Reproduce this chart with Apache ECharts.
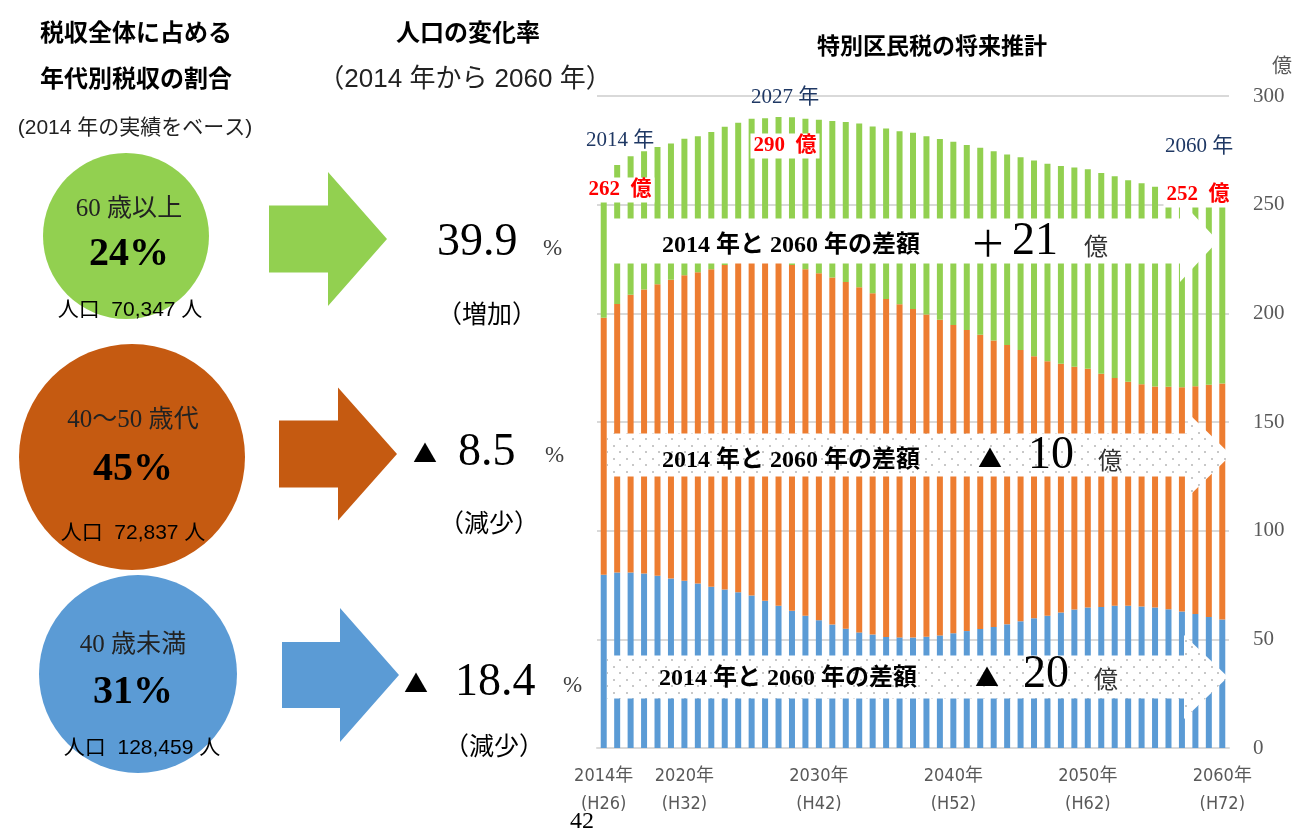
<!DOCTYPE html>
<html>
<head>
<meta charset="utf-8">
<script src="https://cdn.jsdelivr.net/npm/echarts@6/dist/echarts.min.js"></script>
<style>
html,body{margin:0;padding:0;background:#fff;}
#main{width:1296px;height:832px;}
</style>
</head>
<body>
<div id="main"></div>
<script>
// ---- data ----
var years = [];
for (var y = 2014; y <= 2060; y++) years.push(y);
var labelYears = [2014, 2020, 2030, 2040, 2050, 2060];
// 40歳未満 (億円)
var under40 = [79.7,80.8,80.8,80.3,79.2,78.0,76.9,75.7,74.2,72.9,71.7,70.2,67.7,65.5,63.1,60.9,58.8,56.8,54.9,53.2,52.2,51.1,50.9,50.8,51.2,51.8,52.8,53.8,54.8,55.7,56.9,58.3,59.7,60.9,62.3,63.7,64.6,64.9,65.4,65.5,65.1,64.6,63.8,62.8,61.7,60.3,59.1];
// 40〜50歳代 (億円)
var age4050 = [118.3,123.5,127.7,130.7,134.2,137.4,140.6,143.2,146.1,149.3,151.5,153.6,156.3,158.1,159.1,159.4,159.7,159.7,159.5,158.8,157.0,155.5,153.3,151.2,148.3,145.3,141.8,138.5,135.4,131.8,128.5,124.8,120.6,117.1,114.5,111.7,109.9,107.3,104.8,103.0,102.3,101.7,102.4,103.2,104.8,106.8,108.6];
// 60歳以上 (億円)
var over60 = [64.0,63.9,63.8,63.6,63.1,62.8,62.8,62.6,63.1,63.6,64.5,65.7,65.8,66.7,68.0,69.2,70.6,72.0,73.6,75.4,76.8,78.5,79.6,81.1,82.0,83.1,84.3,85.2,86.0,87.1,87.7,88.7,90.0,90.8,91.0,91.7,91.8,92.4,92.9,92.7,92.4,91.9,91.2,90.2,88.5,86.4,84.3];
var yTicks = [0, 50, 100, 150, 200, 250, 300];

// ---- fonts & colors ----
var SERIF = "'Liberation Serif','Noto Sans CJK JP',serif";
var SANS = "'Noto Sans CJK JP','Liberation Sans',sans-serif";
var GOTH = "'Liberation Sans','Noto Sans CJK JP',sans-serif";
var NARROW = "'Liberation Sans Narrow','DejaVu Sans Condensed','Noto Sans CJK JP',sans-serif";
var GREEN = '#92D050', ORANGE = '#ED7D31', BLUE = '#5B9BD5', DKORANGE = '#C55A11';

// dotted pattern for annotation arrows
var pc = document.createElement('canvas');
pc.width = 13; pc.height = 13;
var pctx = pc.getContext('2d');
pctx.fillStyle = '#ffffff'; pctx.fillRect(0, 0, 13, 13);
pctx.fillStyle = '#C8C8C8';
pctx.fillRect(2, 3, 2, 2);
pctx.fillRect(8, 9, 2, 2);

function txt(x, y, text, size, opts) {
  opts = opts || {};
  return {
    type: 'text', x: x, y: y, z: 20,
    style: {
      text: text,
      fontSize: size,
      fontFamily: opts.family || SERIF,
      fontWeight: opts.weight || 'normal',
      fill: opts.color || '#000',
      align: opts.align || 'center',
      verticalAlign: 'middle',
      backgroundColor: opts.bg,
      padding: opts.pad
    }
  };
}
function arrowPoly(x0, x1, xt, yc, bodyHalf, headHalf, fill, z) {
  return {
    type: 'polygon', z: z || 10,
    shape: { points: [[x0, yc - bodyHalf], [x1, yc - bodyHalf], [x1, yc - headHalf], [xt, yc], [x1, yc + headHalf], [x1, yc + bodyHalf], [x0, yc + bodyHalf]] },
    style: { fill: fill }
  };
}

var graphics = [
  // headers
  txt(136, 32, '税収全体に占める', 24, {family: SANS, weight: 'bold'}),
  txt(136, 78, '年代別税収の割合', 24, {family: SANS, weight: 'bold'}),
  txt(135, 128, '(2014 年の実績をベース)', 21, {family: GOTH, color: '#222'}),
  txt(468, 32, '人口の変化率', 24, {family: SANS, weight: 'bold'}),
  txt(465, 80, '（2014 年から 2060 年）', 26, {family: GOTH, color: '#222'}),
  txt(932, 45, '特別区民税の将来推計', 23, {family: SANS, weight: 'bold'}),
  txt(1282, 65, '億', 20, {family: SANS, color: '#595959'}),
  txt(582, 822, '42', 24),

  // circles
  { type: 'circle', z: 5, shape: { cx: 126, cy: 236, r: 83 }, style: { fill: GREEN } },
  { type: 'circle', z: 5, shape: { cx: 132, cy: 457, r: 113 }, style: { fill: DKORANGE } },
  { type: 'circle', z: 5, shape: { cx: 138, cy: 674, r: 99 }, style: { fill: BLUE } },
  txt(129, 209, '60 歳以上', 25, {color: '#222'}),
  txt(129, 255, '24%', 40, {weight: 'bold'}),
  txt(130, 310, '人口  70,347 人', 21, {family: GOTH}),
  txt(133, 420, '40〜50 歳代', 25, {color: '#222'}),
  txt(133, 470, '45%', 40, {weight: 'bold'}),
  txt(133, 533, '人口  72,837 人', 21, {family: GOTH}),
  txt(133, 645, '40 歳未満', 25, {color: '#222'}),
  txt(133, 693, '31%', 40, {weight: 'bold'}),
  txt(142, 748, '人口  128,459 人', 21, {family: GOTH}),

  // left arrows
  arrowPoly(269, 328, 387, 239, 33.5, 67, GREEN, 5),
  arrowPoly(279, 338, 397, 454, 33.5, 66.5, DKORANGE, 5),
  arrowPoly(282, 340, 399, 675, 33, 67, BLUE, 5),

  // change rates
  txt(437, 243, '39.9', 46, {align: 'left'}),
  txt(543, 249, '%', 23, {align: 'left', color: '#404040'}),
  txt(487, 313, '（増加）', 25, {family: SANS}),
  txt(425, 453, '▲', 24, {family: SANS}),
  txt(458, 453, '8.5', 46, {align: 'left'}),
  txt(545, 456, '%', 23, {align: 'left', color: '#404040'}),
  txt(489, 522, '（減少）', 25, {family: SANS}),
  txt(416, 683, '▲', 24, {family: SANS}),
  txt(455, 683, '18.4', 46, {align: 'left'}),
  txt(563, 686, '%', 23, {align: 'left', color: '#404040'}),
  txt(494, 745, '（減少）', 25, {family: SANS}),

  // annotation arrows over chart
  arrowPoly(607, 1180, 1218, 241, 22.5, 41, '#ffffff', 10),
  arrowPoly(607, 1188, 1231, 455, 21.5, 42, { image: pc, repeat: 'repeat' }, 10),
  arrowPoly(607, 1184, 1228, 677, 21.5, 42, { image: pc, repeat: 'repeat' }, 10),
  txt(791, 246, '2014 年と 2060 年の差額', 24, {weight: 'bold'}),
  txt(988, 243, '＋', 36, {family: SANS}),
  txt(1035, 242, '21', 46),
  txt(1096, 246, '億', 24, {family: SANS, color: '#333'}),
  txt(791, 461, '2014 年と 2060 年の差額', 24, {weight: 'bold'}),
  txt(990, 458, '▲', 24, {family: SANS}),
  txt(1051, 456, '10', 46),
  txt(1110, 460, '億', 24, {family: SANS, color: '#333'}),
  txt(788, 679, '2014 年と 2060 年の差額', 24, {weight: 'bold'}),
  txt(987, 677, '▲', 24, {family: SANS}),
  txt(1046, 675, '20', 46),
  txt(1106, 679, '億', 24, {family: SANS, color: '#333'}),

  // year / value annotations
  txt(620, 140, '2014 年', 21, {color: '#1F3864'}),
  txt(620, 190, '262  億', 21, {color: '#FF0000', weight: 'bold', bg: '#fff', pad: [2, 3]}),
  txt(785, 97, '2027 年', 21, {color: '#1F3864'}),
  txt(785, 146, '290  億', 21, {color: '#FF0000', weight: 'bold', bg: '#fff', pad: [2, 3]}),
  txt(1199, 146, '2060 年', 21, {color: '#1F3864'}),
  txt(1198, 195, '252  億', 21, {color: '#FF0000', weight: 'bold', bg: '#fff', pad: [2, 3]})
];

var chart = echarts.init(document.getElementById('main'), null, { renderer: 'canvas' });
chart.setOption({
  animation: false,
  backgroundColor: '#fff',
  grid: { left: 597, right: 67, top: 96, bottom: 84 },
  xAxis: {
    type: 'category',
    data: years,
    boundaryGap: true,
    axisLine: { lineStyle: { color: '#D9D9D9', width: 2 } },
    axisTick: { show: false },
    axisLabel: {
      interval: function (i, v) { return labelYears.indexOf(Number(v)) >= 0; },
      formatter: function (v) { return v + '年\n(H' + (Number(v) - 1988) + ')'; },
      color: '#595959',
      fontFamily: NARROW,
      fontSize: 18,
      lineHeight: 28,
      margin: 14
    }
  },
  yAxis: {
    type: 'value',
    position: 'right',
    min: yTicks[0],
    max: yTicks[yTicks.length - 1],
    interval: 50,
    axisLine: { show: false },
    axisTick: { show: false },
    splitLine: { lineStyle: { color: '#D9D9D9', width: 2 } },
    axisLabel: { color: '#595959', fontFamily: SERIF, fontSize: 21, margin: 24 }
  },
  series: [
    { name: '40歳未満', type: 'bar', stack: 'tax', data: under40, barWidth: 6, itemStyle: { color: BLUE } },
    { name: '40〜50歳代', type: 'bar', stack: 'tax', data: age4050, barWidth: 6, itemStyle: { color: ORANGE } },
    { name: '60歳以上', type: 'bar', stack: 'tax', data: over60, barWidth: 6, itemStyle: { color: GREEN } }
  ],
  graphic: { elements: graphics }
});
</script>
</body>
</html>
